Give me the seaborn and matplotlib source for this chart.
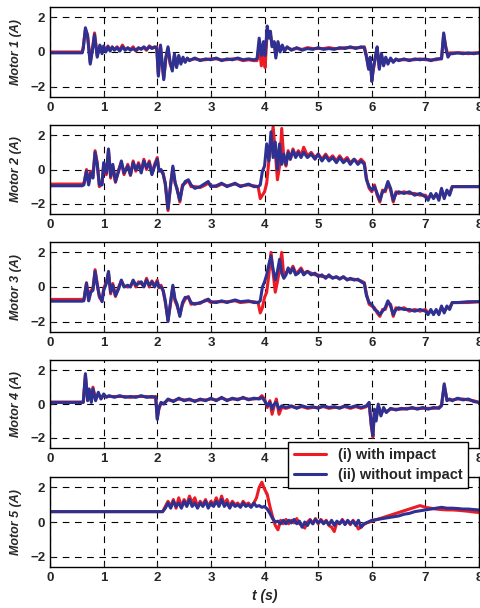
import numpy as np
import matplotlib
matplotlib.use("Agg")
import matplotlib.pyplot as plt
import seaborn as sns

# ---- motor 1 ----
t_m1 = [0, 0.6, 0.62, 0.66, 0.7, 0.75, 0.8, 0.83, 0.88, 0.93,
        0.97, 1.0, 1.04, 1.08, 1.12, 1.16, 1.2, 1.25, 1.3, 1.35,
        1.4, 1.45, 1.5, 1.55, 1.6, 1.65, 1.7, 1.75, 1.8, 1.85,
        1.9, 1.95, 1.99, 2.02, 2.06, 2.09, 2.12, 2.16, 2.2, 2.24,
        2.28, 2.32, 2.36, 2.4, 2.44, 2.48, 2.52, 2.56, 2.6, 2.7,
        2.8, 2.9, 3.0, 3.1, 3.2, 3.3, 3.4, 3.5, 3.6, 3.7,
        3.8, 3.86, 3.9, 3.94, 3.98, 4.01, 4.05, 4.08, 4.11, 4.14,
        4.18, 4.21, 4.25, 4.29, 4.33, 4.37, 4.42, 4.5, 4.6, 4.7,
        4.8, 4.9, 5.0, 5.1, 5.2, 5.3, 5.4, 5.5, 5.6, 5.7,
        5.8, 5.86, 5.9, 5.94, 5.97, 6.0, 6.03, 6.07, 6.1, 6.14,
        6.18, 6.22, 6.26, 6.3, 6.35, 6.4, 6.45, 6.5, 6.6, 6.7,
        6.8, 6.9, 7.0, 7.1, 7.2, 7.3, 7.34, 7.38, 7.42, 7.46,
        7.5, 7.6, 7.7, 7.8, 7.9, 8.0]
blue_m1 = [-0.05, -0.05, 0.2, 1.4, 0.9, -0.7, 0.3, 1.0, -0.3, 0.4,
           -0.1, 0.35, 0.0, 0.3, 0.05, 0.3, 0.1, 0.25, 0.05, 0.3,
           0.1, 0.25, 0.1, 0.2, 0.1, 0.25, 0.15, 0.3, 0.15, 0.3,
           0.2, 0.3, 0.2, -1.4, 0.4, -0.6, -1.6, -0.3, 0.3, -0.6,
           -1.1, -0.1, -0.9, -0.2, -0.7, -0.3, -0.6, -0.35, -0.5, -0.35,
           -0.5, -0.4, -0.45, -0.35, -0.5, -0.4, -0.45, -0.35, -0.45, -0.4,
           -0.45, -0.4, 0.8, -0.2, 0.6, -0.2, 1.5, 0.8, 1.2, 0.3,
           0.6, -0.35, 0.6, 0.0, 0.4, 0.05, 0.3, 0.1, 0.25, 0.1,
           0.2, 0.15, 0.25, 0.15, 0.2, 0.15, 0.25, 0.2, 0.3, 0.2,
           0.3, 0.25, -0.3, -1.0, -0.3, -1.7, -0.9, -0.2, 0.3, -1.0,
           -0.1, -0.8, -0.3, -0.7, -0.35, -0.6, -0.4, -0.5, -0.4, -0.5,
           -0.4, -0.45, -0.4, -0.5, -0.4, -0.4, 1.1, 0.2, -0.3, -0.1,
           -0.1, -0.05, -0.1, -0.05, -0.1, -0.05]
red_m1 = [0.0, 0.0, 0.3, 1.3, 1.0, -0.6, 0.4, 1.1, -0.2, 0.35,
          0.0, 0.3, 0.05, 0.35, 0.1, 0.25, 0.15, 0.3, 0.1, 0.4,
          0.15, 0.2, 0.15, 0.3, 0.05, 0.2, 0.2, 0.25, 0.1, 0.35,
          0.25, 0.25, 0.3, -1.3, 0.3, -0.7, -1.5, -0.4, 0.2, -0.7,
          -1.0, -0.2, -0.8, -0.3, -0.6, -0.4, -0.55, -0.4, -0.45, -0.4,
          -0.45, -0.45, -0.4, -0.4, -0.45, -0.45, -0.4, -0.4, -0.5, -0.45,
          -0.5, -0.5, 0.4, -0.8, 0.3, -0.9, 1.2, 1.0, 1.0, 0.4,
          0.5, -0.2, 0.5, 0.1, 0.35, 0.1, 0.25, 0.15, 0.2, 0.15,
          0.25, 0.2, 0.2, 0.2, 0.25, 0.2, 0.2, 0.25, 0.25, 0.25,
          0.25, 0.3, -0.2, -0.9, -0.4, -1.6, -1.0, -0.3, 0.2, -0.9,
          -0.2, -0.7, -0.4, -0.6, -0.4, -0.55, -0.45, -0.45, -0.45, -0.45,
          -0.45, -0.4, -0.45, -0.45, -0.45, -0.35, 1.0, 0.3, -0.2, -0.05,
          -0.05, -0.05, -0.05, -0.1, -0.05, -0.05]

# ---- motors 2 and 3 (same sampling) ----
t_m23 = [0, 0.6, 0.63, 0.68, 0.72, 0.76, 0.8, 0.84, 0.88, 0.92,
         0.97, 1.0, 1.05, 1.09, 1.13, 1.17, 1.22, 1.28, 1.33, 1.38,
         1.45, 1.5, 1.55, 1.6, 1.65, 1.7, 1.75, 1.8, 1.85, 1.9,
         1.95, 2.0, 2.03, 2.07, 2.11, 2.15, 2.2, 2.25, 2.29, 2.33,
         2.37, 2.42, 2.47, 2.52, 2.58, 2.63, 2.7, 2.8, 2.9, 2.95,
         3.0, 3.1, 3.2, 3.3, 3.45, 3.55, 3.7, 3.8, 3.88, 3.92,
         3.96, 4.0, 4.04, 4.08, 4.12, 4.16, 4.2, 4.24, 4.28, 4.32,
         4.36, 4.4, 4.44, 4.48, 4.53, 4.58, 4.63, 4.68, 4.73, 4.8,
         4.87, 4.94, 5.0, 5.07, 5.14, 5.2, 5.27, 5.34, 5.4, 5.47,
         5.54, 5.6, 5.67, 5.74, 5.8, 5.86, 5.9, 5.95, 6.0, 6.05,
         6.1, 6.15, 6.2, 6.25, 6.3, 6.35, 6.4, 6.45, 6.5, 6.6,
         6.7, 6.8, 6.9, 7.0, 7.05, 7.1, 7.15, 7.2, 7.25, 7.3,
         7.35, 7.4, 7.45, 7.5, 7.6, 7.8, 8.0]
blue_m2 = [-0.95, -0.95, -0.9, -0.1, -0.9, -0.2, -0.5, 1.0, 0.3, -0.9,
           -0.9, 0.4, -0.2, 1.2, -0.4, 0.3, -0.7, -0.1, 0.5, -0.2,
           0.2, -0.3, 0.4, 0.0, 0.3, -0.2, 0.5, 0.1, 0.4, -0.3,
           0.2, 0.6, -0.1, 0.0, -0.3, -0.8, -2.3, -0.9, 0.2, -0.7,
           -1.2, -1.8, -1.0, -0.7, -0.6, -0.9, -1.1, -1.0, -0.8, -0.7,
           -1.0, -0.95, -0.8, -1.0, -0.8, -1.0, -0.85, -1.0, -1.0, -0.9,
           -0.1, 0.2, 1.5, 0.5, 2.2, 0.7, 1.6, 0.0, 1.5, 0.3,
           0.9, 0.3, 1.0, 0.6, 1.1, 0.7, 1.0, 0.7, 1.0, 0.7,
           0.9, 0.6, 0.9, 0.5, 0.8, 0.5, 0.7, 0.4, 0.7, 0.4,
           0.6, 0.3, 0.6, 0.3, 0.5, 0.3, -0.6, -1.0, -1.2, -1.0,
           -1.4, -1.8, -1.3, -1.2, -0.7, -1.1, -1.8, -1.4, -1.3, -1.4,
           -1.3, -1.5, -1.4, -1.6, -1.8, -1.4, -1.7, -1.4, -1.8, -1.1,
           -1.7, -1.2, -1.5, -1.0, -1.0, -1.0, -1.0]
red_m2 = [-0.85, -0.85, -0.85, 0.0, -0.8, -0.1, -0.4, 1.1, 0.4, -1.0,
          -0.8, 0.3, -0.3, 1.1, -0.5, 0.2, -0.75, 0.0, 0.4, -0.3,
          0.3, -0.35, 0.5, -0.1, 0.4, -0.1, 0.6, 0.0, 0.5, -0.2,
          0.3, 0.7, 0.0, -0.1, -0.2, -0.9, -2.4, -0.8, 0.1, -0.8,
          -1.1, -1.9, -0.9, -0.8, -0.65, -1.0, -1.0, -1.05, -0.9, -0.8,
          -0.95, -1.0, -0.85, -0.95, -0.85, -0.95, -0.9, -0.95, -1.0, -1.7,
          -1.5, -1.3, -0.8, 0.5, 1.5, 2.5, 1.0, -0.6, 0.2, 2.4,
          0.6, 0.2, 1.1, 0.6, 1.2, 0.8, 1.1, 0.8, 1.3, 0.8,
          1.0, 0.7, 0.9, 0.6, 0.9, 0.6, 0.8, 0.5, 0.8, 0.5,
          0.7, 0.4, 0.6, 0.4, 0.6, 0.4, -0.5, -1.1, -1.3, -0.9,
          -1.5, -1.9, -1.2, -1.3, -0.8, -1.2, -1.9, -1.3, -1.4, -1.3,
          -1.4, -1.4, -1.5, -1.5, -1.7, -1.5, -1.6, -1.5, -1.7, -1.2,
          -1.6, -1.3, -1.4, -1.0, -1.0, -1.0, -1.0]
blue_m3 = [-0.82, -0.82, -0.8, 0.2, -0.8, -0.3, -0.2, 0.9, 0.1, -0.5,
           -0.85, -0.2, 0.2, 0.9, -0.3, 0.1, -0.5, -0.1, 0.4, 0.0,
           0.1, 0.0, 0.4, 0.1, 0.2, 0.3, 0.0, 0.4, 0.1, 0.3,
           0.0, 0.3, 0.0, 0.0, -0.2, -0.8, -2.0, -0.8, 0.1, -0.7,
           -1.0, -1.7, -0.9, -0.6, -0.6, -0.9, -1.0, -0.9, -0.8, -0.7,
           -0.85, -0.9, -0.8, -0.9, -0.75, -0.85, -0.8, -0.9, -0.9, -0.8,
           0.0, 0.3, 0.7, 1.3, 1.8, 1.0, 0.4, 0.9, 1.6, 0.8,
           0.5, 0.7, 1.1, 0.8, 1.1, 0.7, 0.8, 1.0, 0.7, 0.9,
           0.7, 0.8, 0.6, 0.7, 0.5, 0.7, 0.5, 0.6, 0.45, 0.6,
           0.4, 0.5, 0.4, 0.45, 0.3, 0.2, -0.5, -0.9, -1.0, -1.3,
           -1.4, -1.6, -1.4, -1.2, -0.8, -1.1, -1.6, -1.3, -1.2, -1.3,
           -1.3, -1.4, -1.3, -1.4, -1.6, -1.3, -1.6, -1.3, -1.6, -1.1,
           -1.5, -1.1, -1.3, -0.9, -0.9, -0.85, -0.85]
red_m3 = [-0.72, -0.72, -0.75, 0.25, -0.75, -0.2, -0.1, 1.0, 0.2, -0.6,
          -0.8, -0.1, 0.3, 0.8, -0.4, 0.2, -0.55, 0.0, 0.35, 0.05,
          0.0, 0.05, 0.35, 0.0, 0.3, 0.2, 0.05, 0.5, 0.0, 0.35,
          0.05, 0.4, -0.05, 0.1, -0.25, -0.9, -1.9, -0.9, 0.0, -0.8,
          -1.1, -1.6, -1.0, -0.7, -0.55, -1.0, -0.95, -0.95, -0.75, -0.8,
          -0.9, -0.85, -0.85, -0.85, -0.8, -0.9, -0.85, -0.85, -0.9, -1.5,
          -1.2, -0.6, -0.3, 0.7, 2.0, 0.8, -0.3, 0.3, 1.0, 2.0,
          0.6, 0.8, 1.0, 0.9, 1.2, 0.8, 0.9, 1.1, 0.8, 0.9,
          0.8, 0.7, 0.7, 0.6, 0.6, 0.6, 0.55, 0.55, 0.5, 0.55,
          0.45, 0.45, 0.45, 0.4, 0.35, 0.25, -0.4, -1.0, -1.1, -1.2,
          -1.5, -1.7, -1.3, -1.3, -0.9, -1.0, -1.7, -1.2, -1.3, -1.2,
          -1.4, -1.3, -1.4, -1.3, -1.5, -1.4, -1.5, -1.4, -1.5, -1.2,
          -1.4, -1.2, -1.2, -0.9, -0.9, -0.9, -0.85]

# ---- motor 4 ----
t_m4 = [0, 0.6, 0.62, 0.66, 0.7, 0.73, 0.77, 0.8, 0.85, 0.9,
        0.95, 1.0, 1.05, 1.1, 1.2, 1.3, 1.4, 1.5, 1.6, 1.7,
        1.8, 1.9, 1.97, 2.0, 2.03, 2.07, 2.12, 2.2, 2.3, 2.4,
        2.5, 2.6, 2.7, 2.8, 2.9, 3.0, 3.1, 3.2, 3.3, 3.4,
        3.5, 3.6, 3.7, 3.8, 3.9, 3.95, 4.0, 4.05, 4.1, 4.14,
        4.18, 4.22, 4.27, 4.32, 4.4, 4.5, 4.6, 4.7, 4.8, 4.9,
        5.0, 5.1, 5.2, 5.3, 5.4, 5.5, 5.6, 5.7, 5.8, 5.9,
        5.95, 5.99, 6.02, 6.05, 6.08, 6.12, 6.17, 6.22, 6.27, 6.35,
        6.45, 6.55, 6.65, 6.75, 6.85, 6.95, 7.05, 7.15, 7.25, 7.3,
        7.35, 7.4, 7.45, 7.5, 7.6, 7.7, 7.8, 7.9, 8.0]
blue_m4 = [0.1, 0.1, 0.1, 1.8, 0.2, 0.9, 0.1, 0.9, 0.2, 0.7,
           0.3, 0.6, 0.4, 0.5, 0.4, 0.5, 0.4, 0.45, 0.4, 0.5,
           0.4, 0.45, 0.4, -0.9, -0.2, 0.1, 0.0, 0.3, 0.15, 0.35,
           0.2, 0.3, 0.15, 0.3, 0.2, 0.35, 0.2, 0.4, 0.2, 0.35,
           0.25, 0.4, 0.25, 0.35, 0.3, 0.4, 0.2, -0.1, 0.1, -0.3,
           0.0, 0.1, -0.3, -0.1, -0.2, -0.1, -0.25, -0.1, -0.2, -0.15,
           -0.25, -0.1, -0.2, -0.15, -0.25, -0.1, -0.2, -0.1, -0.2, -0.1,
           0.1, -1.2, -1.85, -0.3, -1.0, 0.0, -0.7, -0.2, -0.5, -0.25,
           -0.35, -0.25, -0.3, -0.2, -0.3, -0.2, -0.3, -0.2, -0.25, -0.1,
           1.2, 0.2, 0.3, 0.2, 0.35, 0.25, 0.3, 0.15, 0.1]
red_m4 = [0.12, 0.12, 0.12, 1.7, 0.3, 0.8, 0.2, 1.0, 0.3, 0.6,
          0.35, 0.5, 0.45, 0.45, 0.45, 0.45, 0.45, 0.4, 0.45, 0.45,
          0.45, 0.4, 0.45, -0.8, -0.3, 0.05, 0.05, 0.25, 0.2, 0.3,
          0.25, 0.25, 0.2, 0.25, 0.25, 0.3, 0.25, 0.35, 0.25, 0.3,
          0.3, 0.35, 0.3, 0.3, 0.35, 0.5, 0.3, -0.2, 0.2, -0.6,
          -0.1, 0.3, -0.6, -0.2, -0.25, -0.15, -0.2, -0.15, -0.25, -0.2,
          -0.2, -0.15, -0.25, -0.2, -0.2, -0.15, -0.25, -0.15, -0.25, -0.15,
          0.05, -1.3, -1.95, -0.4, -0.9, -0.1, -0.6, -0.3, -0.45, -0.3,
          -0.3, -0.3, -0.25, -0.25, -0.25, -0.25, -0.25, -0.25, -0.2, -0.05,
          1.1, 0.3, 0.25, 0.25, 0.3, 0.3, 0.25, 0.2, 0.1]

# ---- motor 5 ----
t_m5 = [0, 0.7, 1.5, 2.1, 2.15, 2.2, 2.25, 2.3, 2.35, 2.4,
        2.45, 2.5, 2.55, 2.6, 2.65, 2.7, 2.75, 2.8, 2.85, 2.9,
        2.95, 3.0, 3.05, 3.1, 3.15, 3.2, 3.25, 3.3, 3.35, 3.4,
        3.45, 3.5, 3.55, 3.6, 3.65, 3.7, 3.75, 3.8, 3.85, 3.9,
        3.95, 4.0, 4.05, 4.1, 4.15, 4.2, 4.25, 4.3, 4.35, 4.4,
        4.45, 4.5, 4.55, 4.6, 4.65, 4.7, 4.75, 4.8, 4.85, 4.9,
        4.95, 5.0, 5.05, 5.1, 5.15, 5.2, 5.25, 5.3, 5.35, 5.4,
        5.45, 5.5, 5.55, 5.6, 5.65, 5.7, 5.75, 5.8, 5.85, 5.9,
        6.0, 6.1, 6.2, 6.3, 6.4, 6.5, 6.6, 6.7, 6.8, 6.9,
        7.0, 7.1, 7.2, 7.3, 7.4, 7.5, 7.6, 7.7, 7.8, 7.9,
        8.0]
blue_m5 = [0.6, 0.6, 0.6, 0.6, 0.8, 1.1, 0.8, 1.2, 0.9, 1.1,
           0.8, 1.2, 0.9, 1.3, 0.9, 1.1, 0.8, 1.1, 0.9, 1.2,
           0.8, 1.1, 0.9, 1.2, 0.9, 1.3, 0.9, 1.1, 0.8, 1.1,
           0.9, 1.0, 0.85, 1.1, 0.9, 1.0, 0.85, 1.1, 0.9, 0.95,
           0.85, 0.9, 0.75, 0.5, 0.2, 0.0, 0.05, -0.1, 0.1, -0.1,
           0.1, -0.05, 0.15, -0.1, 0.05, -0.3, 0.0, -0.2, 0.1, -0.1,
           0.15, -0.05, 0.1, -0.1, 0.05, -0.15, 0.1, -0.2, 0.05, -0.1,
           0.1, -0.15, 0.1, -0.1, 0.05, -0.2, 0.1, -0.3, -0.1, -0.05,
           0.1, 0.15, 0.2, 0.25, 0.3, 0.35, 0.45, 0.5, 0.6, 0.65,
           0.7, 0.75, 0.8, 0.85, 0.8, 0.8, 0.78, 0.75, 0.75, 0.72,
           0.7]
red_m5 = [0.6, 0.6, 0.6, 0.6, 0.9, 1.2, 0.9, 1.3, 0.8, 1.4,
          0.9, 1.3, 1.0, 1.5, 1.1, 1.4, 0.9, 1.2, 1.0, 1.3,
          0.9, 1.2, 1.0, 1.4, 1.0, 1.5, 1.0, 1.3, 0.9, 1.2,
          1.0, 1.1, 0.9, 1.2, 1.0, 1.1, 0.9, 1.1, 1.4, 2.0,
          2.3, 1.9, 1.6, 0.9, 0.3, -0.2, -0.45, 0.1, -0.1, 0.15,
          -0.1, 0.1, -0.05, 0.2, -0.1, -0.2, -0.35, 0.0, 0.15, -0.1,
          0.2, -0.1, 0.15, -0.05, 0.1, -0.2, -0.3, -0.55, 0.0, -0.1,
          0.15, -0.1, 0.05, -0.15, 0.1, -0.1, -0.4, -0.3, -0.15, -0.05,
          0.05, 0.15, 0.25, 0.35, 0.45, 0.55, 0.65, 0.75, 0.85, 0.95,
          0.85, 0.8, 0.75, 0.72, 0.7, 0.7, 0.68, 0.65, 0.62, 0.58,
          0.55]

labels = ["(i) with impact", "(ii) without impact"]

sns.set_style("ticks")
plt.rcParams["font.family"] = ["Liberation Sans", "DejaVu Sans"]

red = "#ED1C24"
blue = "#2E3192"

motors = [(t_m1, red_m1, blue_m1), (t_m23, red_m2, blue_m2),
          (t_m23, red_m3, blue_m3), (t_m4, red_m4, blue_m4),
          (t_m5, red_m5, blue_m5)]
# axes boxes in figure fraction (left, bottom, width, height)
boxes = [(0.104, 0.8405, 0.892, 0.148),
         (0.104, 0.648, 0.892, 0.1464),
         (0.104, 0.454, 0.892, 0.148),
         (0.104, 0.263, 0.892, 0.1447),
         (0.104, 0.0674, 0.892, 0.148)]

fig = plt.figure(figsize=(4.81, 6.08), dpi=100)
axes = []
for i, ((t, r, b), box) in enumerate(zip(motors, boxes)):
    ax = fig.add_axes(box)
    sns.lineplot(x=t, y=r, ax=ax, color=red, lw=2.2, estimator=None, sort=False)
    sns.lineplot(x=t, y=b, ax=ax, color=blue, lw=2.2, estimator=None, sort=False)
    ax.set_xlim(0, 8)
    ax.set_ylim(-2.6, 2.6)
    ax.set_xticks(range(9))
    ax.set_yticks([-2, 0, 2])
    ax.grid(True, color="black", ls=(0, (6, 5)), lw=0.8)
    ax.set_ylabel(f"Motor {i + 1} (A)", fontsize=9, fontweight="bold",
                  fontstyle="italic", labelpad=6)
    ax.tick_params(labelsize=9.5, length=3, direction="in", width=0.8)
    for lab in ax.get_xticklabels() + ax.get_yticklabels():
        lab.set_fontweight("bold")
    for sp in ax.spines.values():
        sp.set_color("black")
        sp.set_linewidth(1)
    axes.append(ax)

axes[-1].set_xlabel("t (s)", fontsize=10, fontweight="bold", fontstyle="italic")

handles = axes[3].lines[:2]
leg = fig.legend(handles, labels, loc="upper right", bbox_to_anchor=(0.974, 0.273),
                 fancybox=False, edgecolor="black", framealpha=1,
                 prop={"weight": "bold", "size": 10.5}, handlelength=2.2,
                 handletextpad=0.8, borderpad=0.4, labelspacing=0.45,
                 borderaxespad=0)
leg.get_frame().set_linewidth(1)

fig.savefig("out.png", dpi=100)
